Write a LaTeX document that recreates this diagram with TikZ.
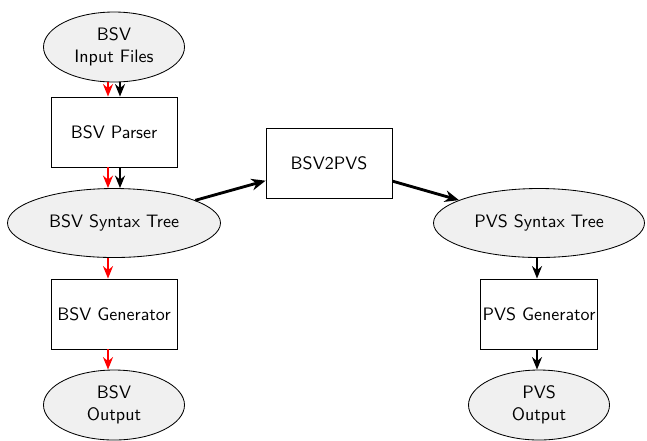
\documentclass[tikz,border=0pt]{standalone}
\usetikzlibrary{arrows.meta,shapes.geometric}
\begin{document}
\begin{tikzpicture}[x=0.6pt,y=-0.6pt,
  font=\sffamily\fontsize{10.8}{13.2}\selectfont,
  every node/.style={inner sep=0pt, align=center, draw=black, line width=0.5pt},
  datum/.style={ellipse, fill=black!6, minimum width=84.6pt, minimum height=42pt},
  wide datum/.style={datum, minimum width=127.8pt, minimum height=41.4pt},
  stage/.style={rectangle, fill=white, minimum width=75.6pt, minimum height=42pt},
  flow/.style={line width=1.2pt, -{Stealth[length=7.5pt,width=6pt]}},
  bsvflow/.style={flow, red},
  link/.style={line width=1.7pt, -{Stealth[length=8.5pt,width=7pt]}}]
  \useasboundingbox (0,0) rectangle (647,440);

  % BSV round-trip column
  \node[datum] (bin) at (114,47) {BSV\\Input Files};
  \node[stage] (bparse) at (114,132) {BSV Parser};
  \node[wide datum] (btree) at (114,223) {BSV Syntax Tree};
  \node[stage] (bgen) at (114,314) {BSV Generator};
  \node[datum] (bout) at (114,405) {BSV\\Output};

  % translator
  \node[stage] (b2p) at (329,163) {BSV2PVS};

  % PVS column
  \node[wide datum, minimum width=126.6pt] (ptree) at (539,223) {PVS Syntax Tree};
  \node[stage, minimum width=70.2pt] (pgen) at (539,314) {PVS Generator};
  \node[datum] (pout) at (539,405) {PVS\\Output};

  % BSV path (red) and translation path (black)
  \draw[bsvflow] ([xshift=-3.6pt]bin.south) -- ([xshift=-3.6pt]bparse.north);
  \draw[flow] ([xshift=3.6pt]bin.south) -- ([xshift=3.6pt]bparse.north);
  \draw[bsvflow] ([xshift=-3.6pt]bparse.south) -- ([xshift=-3.6pt]btree.north);
  \draw[flow] ([xshift=3.6pt]bparse.south) -- ([xshift=3.6pt]btree.north);
  \draw[bsvflow] ([xshift=-3.6pt]btree.south) -- ([xshift=-3.6pt]bgen.north);
  \draw[bsvflow] ([xshift=-3.6pt]bgen.south) -- ([xshift=-3.6pt]bout.north);

  \draw[link] (btree) -- (b2p);
  \draw[link] (b2p) -- (ptree);

  \draw[flow] ([xshift=-1.2pt]ptree.south) -- ([xshift=-1.2pt]pgen.north);
  \draw[flow] ([xshift=-1.2pt]pgen.south) -- ([xshift=-1.2pt]pout.north);
\end{tikzpicture}
\end{document}
